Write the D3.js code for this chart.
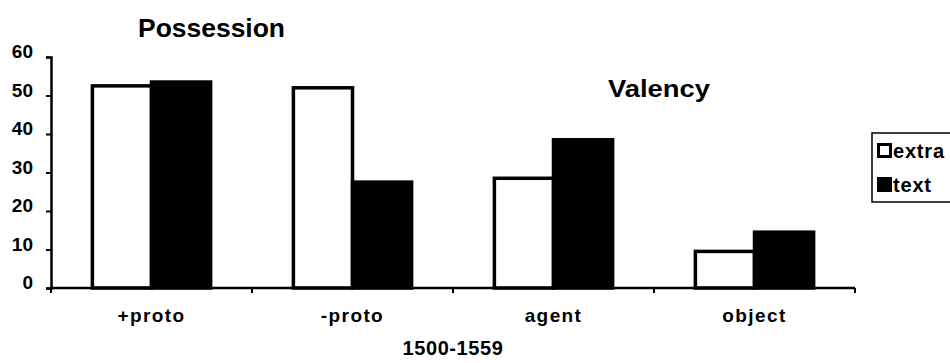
<!DOCTYPE html>
<html>
<head>
<meta charset="utf-8">
<script src="https://cdn.jsdelivr.net/npm/d3@7"></script>
<style>
  body { margin: 0; background: #fff; }
  text { font-family: "Liberation Sans", Arial, sans-serif; font-weight: bold; fill: #000; }
</style>
</head>
<body>
<div id="canvas"></div>
<script>
const categories = ["+proto", "-proto", "agent", "object"];
const seriesNames = ["extra", "text"];
const extraValues = [52.5, 52, 28.5, 9.5];
const textValues = [53.5, 27.5, 38.5, 14.5];
const yTicks = [0, 10, 20, 30, 40, 50, 60];

const data = categories.map((c, i) => ({ cat: c, extra: extraValues[i], text: textValues[i] }));

const width = 950, height = 363;
const margin = { top: 57, left: 51, bottom: 75, right: 95 };
const iwidth = width - margin.left - margin.right;
const iheight = height - margin.top - margin.bottom;

const svg = d3.select("#canvas").append("svg")
  .attr("width", width)
  .attr("height", height);

const g = svg.append("g")
  .attr("transform", `translate(${margin.left},${margin.top})`);

const x = d3.scaleBand().domain(categories).range([0, iwidth]).padding(0);
const x1 = d3.scaleBand().domain(seriesNames).range([0, x.bandwidth()])
  .paddingInner(0).paddingOuter(0.7);
const y = d3.scaleLinear().domain([0, 60]).range([iheight, 0]);

// bars
const groups = g.selectAll("g.grp").data(data).enter().append("g")
  .attr("class", "grp")
  .attr("transform", d => `translate(${x(d.cat)},0)`);

groups.append("rect")
  .attr("x", x1("extra"))
  .attr("y", d => y(d.extra))
  .attr("width", x1.bandwidth())
  .attr("height", d => iheight - y(d.extra))
  .attr("fill", "#fff")
  .attr("stroke", "#000")
  .attr("stroke-width", 3.5);

groups.append("rect")
  .attr("x", x1("text"))
  .attr("y", d => y(d.text))
  .attr("width", x1.bandwidth())
  .attr("height", d => iheight - y(d.text))
  .attr("fill", "#000")
  .attr("stroke", "#000")
  .attr("stroke-width", 3.5);

// y axis
const yAxis = g.append("g")
  .call(d3.axisLeft(y).tickValues(yTicks).tickSize(5).tickPadding(13));
yAxis.select(".domain").attr("stroke-width", 2.5);
yAxis.selectAll(".tick line").attr("stroke-width", 2);
yAxis.selectAll(".tick text")
  .attr("font-size", 19)
  .attr("dy", "0.05em");

// x axis, ticks at category boundaries
const bounds = categories.map(c => x(c)).concat([iwidth]);
const xAxis = g.append("g").attr("transform", `translate(0,${iheight})`);
xAxis.append("line")
  .attr("x1", 0).attr("x2", iwidth)
  .attr("stroke", "#000").attr("stroke-width", 2.5);
xAxis.selectAll("line.tk").data(bounds).enter().append("line")
  .attr("class", "tk")
  .attr("x1", d => d).attr("x2", d => d)
  .attr("y1", 0).attr("y2", 5)
  .attr("stroke", "#000").attr("stroke-width", 2);
xAxis.selectAll("text.cat").data(categories).enter().append("text")
  .attr("class", "cat")
  .attr("x", d => x(d) + x.bandwidth() / 2)
  .attr("y", 34)
  .attr("text-anchor", "middle")
  .attr("font-size", 19)
  .attr("letter-spacing", 1.4)
  .text(d => d);

svg.append("text")
  .attr("x", 453).attr("y", 355)
  .attr("text-anchor", "middle")
  .attr("font-size", 20)
  .attr("letter-spacing", 0.6)
  .text("1500-1559");

// titles
svg.append("text")
  .attr("x", 138).attr("y", 37)
  .attr("font-size", 25)
  .attr("textLength", 147)
  .attr("lengthAdjust", "spacingAndGlyphs")
  .text("Possession");

svg.append("text")
  .attr("x", 608).attr("y", 97)
  .attr("font-size", 23)
  .attr("textLength", 102)
  .attr("lengthAdjust", "spacingAndGlyphs")
  .text("Valency");

// legend
const legend = svg.append("g").attr("transform", "translate(872,133)");
legend.append("rect")
  .attr("x", 0).attr("y", 0)
  .attr("width", 100).attr("height", 69)
  .attr("fill", "none").attr("stroke", "#000").attr("stroke-width", 1.5);

const legendItems = legend.selectAll("g.item").data(seriesNames).enter().append("g")
  .attr("class", "item")
  .attr("transform", (d, i) => `translate(0,${10 + i * 34})`);
legendItems.append("rect")
  .attr("x", 6.5).attr("y", 1.5)
  .attr("width", 12).attr("height", 12)
  .attr("fill", d => d === "extra" ? "#fff" : "#000")
  .attr("stroke", "#000").attr("stroke-width", 3);
legendItems.append("text")
  .attr("x", 21).attr("y", 15)
  .attr("font-size", 20)
  .attr("letter-spacing", 0.8)
  .text(d => d);
</script>
</body>
</html>
